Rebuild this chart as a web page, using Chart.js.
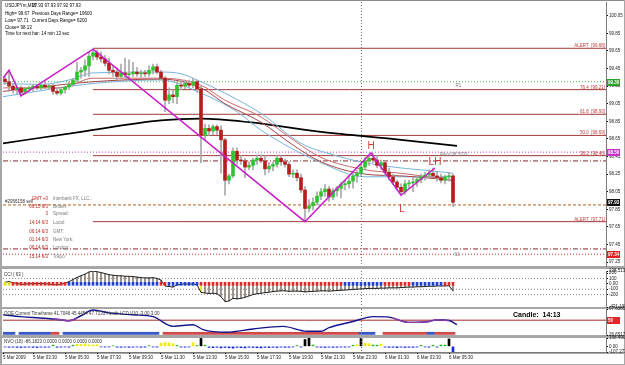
<!DOCTYPE html>
<html><head><meta charset="utf-8">
<script src="https://cdn.jsdelivr.net/npm/chart.js@4.4.1/dist/chart.umd.min.js"></script>
<style>
html,body{margin:0;padding:0;background:#fff;}
body{width:625px;height:365px;position:relative;overflow:hidden;}
canvas{position:absolute;left:0;z-index:1;}
.sep{position:absolute;background:#a6a6a6;z-index:0;}
.t{position:absolute;white-space:pre;font-family:"Liberation Sans",Arial,sans-serif;font-size:9px;line-height:10px;transform:scale(0.5);transform-origin:0 0;z-index:3;color:#000;}
</style></head><body>
<div class="sep" style="left:0;top:0;width:625px;height:1px;background:#8a8a8a"></div>
<div class="sep" style="left:0;top:0;width:2px;height:365px"></div>
<div class="sep" style="left:0;top:266px;width:625px;height:3px"></div>
<div class="sep" style="left:0;top:307px;width:625px;height:2px"></div>
<div class="sep" style="left:0;top:335px;width:625px;height:3px"></div>
<div class="sep" style="left:0;top:352px;width:625px;height:2px"></div>
<div class="sep" style="left:0;top:364px;width:625px;height:1px"></div>
<div class="sep" style="left:624px;top:0;width:1px;height:365px"></div>
<canvas id="cMain" width="625" height="272" style="top:-2px"></canvas>
<canvas id="cCci" width="625" height="44" style="top:267px"></canvas>
<canvas id="cQqe" width="625" height="34" style="top:305px"></canvas>
<canvas id="cNvo" width="625" height="31" style="top:334px"></canvas>
<script>
// ---------------- DATA ----------------
const openP = [99.33,99.30,99.25,99.21,99.23,99.18,99.22,99.23,99.25,99.23,
 99.26,99.24,99.25,99.19,99.17,99.21,99.24,99.27,99.32,99.41,
 99.43,99.48,99.59,99.63,99.58,99.56,99.51,99.43,99.41,99.36,
 99.40,99.38,99.39,99.41,99.39,99.40,99.39,99.43,99.47,99.41,
 99.34,99.09,99.15,99.13,99.26,99.25,99.28,99.26,99.30,99.22,
 98.69,98.77,98.74,98.79,98.75,98.64,98.18,98.23,98.51,98.41,
 98.40,98.33,98.35,98.41,98.43,98.40,98.31,98.34,98.36,98.43,
 98.39,98.36,98.25,98.26,98.21,98.07,97.86,97.89,97.93,98.00,
 98.05,98.08,97.99,98.06,98.09,98.13,98.14,98.17,98.23,98.26,
 98.33,98.40,98.43,98.41,98.35,98.38,98.27,98.22,98.16,98.10,
 98.05,98.14,98.15,98.16,98.19,98.22,98.24,98.26,98.23,98.21,
 98.18,98.22,98.23];
const highP = [99.36,99.43,99.27,99.25,99.25,99.24,99.25,99.27,99.27,99.27,
 99.30,99.27,99.27,99.23,99.22,99.25,99.30,99.34,99.52,99.46,
 99.55,99.64,99.67,99.66,99.64,99.60,99.57,99.48,99.46,99.50,
 99.57,99.55,99.52,99.46,99.43,99.43,99.48,99.50,99.50,99.43,
 99.36,99.23,99.21,99.30,99.32,99.32,99.32,99.34,99.32,99.25,
 98.82,98.81,98.81,98.81,98.80,98.66,98.25,98.55,98.55,98.46,
 98.43,98.39,98.43,98.47,98.47,98.46,98.38,98.39,98.47,98.46,
 98.42,98.39,98.30,98.30,98.25,98.11,97.96,97.98,98.05,98.09,
 98.13,98.11,98.09,98.11,98.16,98.18,98.23,98.27,98.30,98.36,
 98.44,98.47,98.49,98.46,98.41,98.39,98.32,98.25,98.18,98.14,
 98.18,98.18,98.21,98.23,98.25,98.27,98.30,98.32,98.27,98.25,
 98.24,98.27,98.25];
const lowP = [99.27,99.21,99.17,99.16,99.14,99.16,99.18,99.19,99.21,99.21,
 99.22,99.21,99.16,99.15,99.15,99.17,99.21,99.25,99.30,99.34,
 99.36,99.36,99.55,99.55,99.52,99.48,99.39,99.36,99.32,99.34,
 99.34,99.34,99.36,99.36,99.35,99.36,99.36,99.39,99.39,99.32,
 98.96,99.05,99.06,99.05,99.21,99.22,99.23,99.23,99.18,98.38,
 98.64,98.69,98.70,98.70,98.26,98.01,98.14,98.21,98.36,98.36,
 98.21,98.30,98.30,98.36,98.38,98.24,98.27,98.29,98.33,98.35,
 98.33,98.22,98.21,98.17,98.04,97.71,97.82,97.84,97.90,97.96,
 98.00,97.94,97.96,98.00,97.98,98.07,98.09,98.09,98.16,98.23,
 98.30,98.35,98.38,98.32,98.30,98.23,98.18,98.13,98.07,98.01,
 98.02,98.09,98.05,98.11,98.15,98.18,98.21,98.22,98.17,98.15,
 98.14,98.17,97.88];
const closeP = [99.30,99.25,99.21,99.23,99.18,99.22,99.23,99.25,99.23,99.26,
 99.24,99.25,99.19,99.17,99.21,99.24,99.27,99.32,99.41,99.43,
 99.48,99.59,99.63,99.58,99.56,99.51,99.43,99.41,99.36,99.40,
 99.38,99.39,99.41,99.39,99.40,99.39,99.43,99.47,99.41,99.34,
 99.09,99.15,99.13,99.26,99.25,99.28,99.26,99.30,99.22,98.69,
 98.77,98.74,98.79,98.75,98.64,98.18,98.23,98.51,98.41,98.40,
 98.33,98.35,98.41,98.43,98.40,98.31,98.34,98.36,98.43,98.39,
 98.36,98.25,98.26,98.21,98.07,97.86,97.89,97.93,98.00,98.05,
 98.08,97.99,98.06,98.09,98.13,98.14,98.17,98.23,98.26,98.33,
 98.40,98.43,98.41,98.35,98.38,98.27,98.22,98.16,98.10,98.05,
 98.14,98.15,98.16,98.19,98.22,98.24,98.26,98.23,98.21,98.18,
 98.22,98.23,97.93];

// moving averages (bar index, price)
const maUpIdx = [-0.5,9,16,22,39,44,49,55,64,74,82,90,99,106,112];
const maUpVal = [99.28,99.27,99.32,99.40,99.41,99.39,99.30,99.17,98.94,98.60,98.47,98.38,98.32,98.29,98.26];
const maR1Idx = [-0.5,14,22,39,49,55,64,72,79,90,99,112];
const maR1Val = [99.23,99.23,99.34,99.34,99.26,99.09,98.90,98.64,98.44,98.30,98.26,98.18];
const maR2Idx = [-0.5,22,39,49,55,64,72,79,90,99,112];
const maR2Val = [99.19,99.30,99.33,99.23,99.05,98.84,98.58,98.39,98.25,98.23,98.18];
const maLoIdx = [-0.5,22,39,49,58,64,79,90,99,112];
const maLoVal = [99.13,99.28,99.32,99.17,98.96,98.75,98.38,98.22,98.22,98.22];
const blackIdx = [-0.5,19,39,49,61,79,99,113];
const blackVal = [98.60,98.73,98.86,98.88,98.84,98.73,98.64,98.57];

// zigzag
const zzIdx = [-0.5,1,4,22,75,91.5,99,107.5];
const zzVal = [99.34,99.43,99.14,99.67,97.71,98.49,98.01,98.32];

// horizontal levels
const levelPrice = [99.68,99.30,99.21,98.93,98.69,98.50,98.46,98.40,97.90,97.71,97.40,97.34];
const levelStart = [22,-0.5,22,22,22,-0.5,22,-0.5,-0.5,22,-0.5,-0.5];
const levelStyle = ['fib','r1','fib','fib','fib','pivot','fib','dashdot','order','fib','dashdot','s1'];
const fibText = ['ALERT  [99.68]','76.4  [99.21]','61.8  [98.93]','50.0  [98.69]','38.2  [98.46]','ALERT  [97.71]'];
const fibTextPrice = [99.68,99.21,98.93,98.69,98.46,97.71];

const patText = ['H','LH','L'];
const patIdx = [91.5,107.5,99.25];
const patPrice = [98.57,98.39,97.85];
const pivText = ['R1','S1','Pivot 98.5033'];
const pivIdx = [112.6,112.3,108.75];
const pivPrice = [99.25,97.33,98.47];

const priceTicks = [100.05,99.85,99.65,99.45,99.25,99.05,98.85,98.65,98.45,98.25,98.05,97.85,97.65,97.45,97.25];
const tagPrice = [99.30,98.50,97.93,97.34];
const tagText = ['99.30','98.50','97.93','97.34'];
const tagColor = ['#2aa02a','#c832c8','#101010','#e02020'];

// CCI(63)
const cciVal = [30,40,20,10,-10,-5,0,5,0,5,
 0,-5,-15,-20,-10,10,40,80,120,150,
 180,220,238,225,210,190,170,160,150,150,
 140,140,135,125,115,110,110,115,100,70,
 -40,-50,-60,-20,-10,0,-10,0,-20,-160,
 -170,-180,-175,-185,-240,-330,-320,-270,-280,-270,
 -250,-225,-200,-185,-175,-165,-155,-145,-135,-130,
 -130,-140,-135,-135,-140,-150,-145,-140,-135,-130,
 -130,-135,-130,-125,-120,-115,-110,-105,-100,-95,
 -90,-85,-85,-85,-80,-80,-75,-75,-75,-70,
 -65,-60,-60,-55,-55,-50,-45,-45,-40,-40,
 -40,-35,-130];
const cciDotRuns = [['y',2],['r',14],['b',23],['r',2],['b',8],['r',36],['b',10],['r',7],['b',8],['r',3]];
const cciHighlight = [49];
const cciLevels = [100,-100,-200];
const cciTicks = [238.5137,200,100,0,-100,-200,-431.103];
const cciTickText = ['238.5137','200','100','0.00','-100','-200','-431.103'];

// QQE
const qqeIdx = [-0.5,4,10,14,16,19,22,26,32,37,42,47,49.5,55.5,62,69.5,75.5,79,81,87,92,95.5,101,106,108,111,113];
const qqeVal = [58.4,55.7,53.0,50.6,49.1,57.0,66.1,61.5,58.5,55.7,40.3,42.9,35.2,31.0,36.2,40.3,32.5,32.5,38.3,48.0,55.7,55.3,46.5,48.0,50.6,49.6,42.9];
const qqePurpAIdx = [12,14,16,18];
const qqePurpAVal = [52.0,50.6,49.1,53.0];
const qqePurpBIdx = [97,101,106,108,111];
const qqePurpBVal = [53.5,46.5,48.0,50.6,49.6];
const qqeBandRuns = [['b',3],['w',1],['b',8],['r',2],['w',1],['b',24],['w',1],['r',49],['b',4],['w',2],['r',11],['b',2],['r',5]];
const qqeTicks = [67.6565,26.6517];
const qqeTickText = ['67.6565','26.6517'];

// NVO(18)
const nvoVal = [-12,-18,-15,-20,-22,-18,-15,-20,-22,-15,
 -18,-14,22,-18,-15,-12,-16,22,40,35,
 45,30,28,32,-10,-14,-12,12,-16,-18,
 -14,-20,-15,-12,-18,-16,14,-12,-15,60,
 72,66,50,18,-14,-16,-12,70,15,150,
 22,-20,-25,-18,-30,-22,-28,-35,-20,-25,
 -30,-18,-22,-26,-30,-20,-24,-18,-22,-15,
 -20,-18,-12,15,-14,130,158,25,-14,-18,
 -22,-16,-20,-18,-14,-16,-12,20,30,150,
 60,50,24,22,45,-15,-20,-18,-24,-16,
 -22,-18,-20,-14,18,-12,-16,20,-14,25,
 24,140,-107];
const nvoTicks = [158.49,0,-107.272];
const nvoTickText = ['158.490','0.00','-107.272'];

const dateTickIdx = [-0.5,7,15,23,31,39,47,55,63,71,79,87,95,103,111];
const dateTickText = ['5 Mar 2009','5 Mar 03:30','5 Mar 05:30','5 Mar 07:30','5 Mar 09:30','5 Mar 11:30','5 Mar 13:30','5 Mar 15:30','5 Mar 17:30','5 Mar 19:30','5 Mar 21:30','5 Mar 23:30','6 Mar 01:30','6 Mar 03:30','6 Mar 05:30'];
const dayIdx = 89;

const infoRed = ['GMT +0','06:15 6/3','3','14:14 6/3','06:14 6/3','01:14 6/3','06:14 6/3','15:14 6/3'];
const infoGray = ['Interbank FX, LLC.:','Broker:','Spread:','Local:','GMT:','New York:','London:','Tokyo:'];

// ---------------- RENDER ----------------
const FF = '"Liberation Sans", Arial, sans-serif';
Chart.defaults.font.family = FF;
const F = 4.5;
const XMIN = -0.5, XMAX = 150.25;
const BULL = '#2fc42f', BEAR = '#b41e1e', WICK = '#a9a9a9';
const mono = {cubicInterpolationMode:'monotone'};

function runs(r){ const out=[]; r.forEach(([k,n])=>{ for(let j=0;j<n;j++) out.push(k); }); return out; }

function makeDeco(cfg){
  return {id:'deco', afterDatasetsDraw(chart){
    const ctx=chart.ctx, a=chart.chartArea, x=chart.scales.x, y=chart.scales.y;
    ctx.save();
    if (cfg.dayIdx!=null){
      const px=Math.round(x.getPixelForValue(cfg.dayIdx))+0.5;
      ctx.strokeStyle='#6e6e6e'; ctx.lineWidth=1; ctx.setLineDash([1,2]);
      ctx.beginPath(); ctx.moveTo(px,a.top); ctx.lineTo(px,a.bottom); ctx.stroke(); ctx.setLineDash([]);
    }
    (cfg.texts||[]).forEach(t=>{
      ctx.font=t.font; ctx.fillStyle=t.color; ctx.textAlign=t.align||'left'; ctx.textBaseline=t.base||'middle';
      ctx.fillText(t.text, x.getPixelForValue(t.i), y.getPixelForValue(t.v)+(t.dy||0));
    });
    (cfg.tags||[]).forEach(g=>{
      const py=Math.round(y.getPixelForValue(g.v));
      ctx.fillStyle=g.bg; ctx.fillRect(a.right+1, py-3, 13, 7);
      ctx.fillStyle='#fff'; ctx.font='bold 4.5px '+FF; ctx.textAlign='left'; ctx.textBaseline='middle';
      ctx.fillText(g.text, a.right+2, py+0.5);
    });
    ctx.restore();
  }};
}

function yAxis(min,max,vals,labels){
  return {type:'linear', position:'right', min, max, beginAtZero:false,
    afterBuildTicks: s => { s.ticks = vals.map(v=>({value:v})); },
    afterFit: s => { s.width = 19; },
    ticks:{autoSkip:false, padding:1, font:{size:F}, color:'#1a1a1a', callback:(v,i)=>labels[i]},
    grid:{display:true, drawOnChartArea:false, drawTicks:true, tickLength:2, color:'#000', offset:false},
    border:{display:true, color:'#7a7a7a'}};
}
const xHidden = {type:'linear', min:XMIN, max:XMAX, offset:false, display:false, grid:{offset:false}};

function opts(pad, y, x){
  return {responsive:false, animation:false, devicePixelRatio:1, events:[],
    layout:{padding:pad},
    plugins:{legend:{display:false}, tooltip:{enabled:false}},
    scales:{x: x||xHidden, y}};
}
function lineDS(idx, vals, color, width, order, extra){
  return Object.assign({type:'line', data: idx.map((v,k)=>({x:v, y:vals[k]})), borderColor:color, borderWidth:width,
    pointRadius:0, fill:false, order, tension:0}, extra||{});
}

// ---- main pane
const levelStyles = {
  fib:{c:'#a33a3a', d:[]}, r1:{c:'#44b044', d:[1,2]}, pivot:{c:'#c040c0', d:[1,2]},
  dashdot:{c:'#8a2a2a', d:[5,2,1,2]}, order:{c:'#b0601a', d:[3,2]}, s1:{c:'#c83030', d:[1,2]}
};
const mainDS = [];
levelPrice.forEach((p,k)=>{ const st=levelStyles[levelStyle[k]]; mainDS.push(lineDS([levelStart[k],XMAX],[p,p],st.c,1,20,{borderDash:st.d})); });
mainDS.push(lineDS(blackIdx, blackVal, '#000', 1.7, 15, mono));
mainDS.push(lineDS(maUpIdx, maUpVal, '#7ab4dc', 1, 14, mono));
mainDS.push(lineDS(maLoIdx, maLoVal, '#7ab4dc', 1, 14, mono));
mainDS.push(lineDS(maR1Idx, maR1Val, '#c86a6a', 1, 13, mono));
mainDS.push(lineDS(maR2Idx, maR2Val, '#a54848', 1, 13, mono));
mainDS.push({type:'bar', data: lowP.map((l,i)=>({x:i, y:[l, highP[i]]})), backgroundColor:WICK, borderWidth:0, barThickness:1, grouped:false, order:9});
mainDS.push({type:'bar', data: openP.map((o,i)=>({x:i, y:[o, closeP[i]]})), backgroundColor: closeP.map((c,i)=> c>=openP[i]?BULL:BEAR), borderWidth:0, barThickness:3, grouped:false, minBarLength:1, order:8});
mainDS.push(lineDS(zzIdx, zzVal, '#c81ec8', 1.5, 2));

const mainTexts = [];
fibText.forEach((t,k)=>mainTexts.push({text:t, i:150, v:fibTextPrice[k], dy:-1, font:F+'px '+FF, color:'#c03a3a', align:'right', base:'alphabetic'}));
patText.forEach((t,k)=>mainTexts.push({text:t, i:patIdx[k], v:patPrice[k], font:'10px '+FF, color:'#d23c3c', align:'center', base:'middle'}));
pivText.forEach((t,k)=>mainTexts.push({text:t, i:pivIdx[k], v:pivPrice[k], font:F+'px '+FF, color:'#7a7a7a', align:'left', base:'middle'}));
const mainTags = tagPrice.map((v,k)=>({v, text:tagText[k], bg:tagColor[k]}));

new Chart(document.getElementById('cMain'), {type:'bar', data:{datasets:mainDS},
  options: opts({left:3,right:0,top:4,bottom:4}, yAxis(97.206,100.206,priceTicks,priceTicks.map(v=>v.toFixed(2)))),
  plugins:[makeDeco({dayIdx, texts:mainTexts, tags:mainTags})]});

// ---- CCI pane
const dotKeys = runs(cciDotRuns);
const dotCol = {y:'#e8dc1e', r:'#e02828', b:'#2040d0'};
const cciDS = [];
cciLevels.forEach(v=>cciDS.push(lineDS([XMIN,XMAX],[v,v],'#8c8c8c',1,20,{borderDash:[1,2]})));
cciDS.push({type:'bar', data: cciVal.map((v,i)=>({x:i, y:[0,v]})), backgroundColor: cciVal.map((v,i)=> cciHighlight.includes(i)?'#e8e020':'#8a7f78'), borderWidth:0, barThickness:1, grouped:false, order:10});
cciDS.push(lineDS(cciVal.map((v,i)=>i), cciVal, '#202020', 1, 5));
cciDS.push({type:'bar', data: dotKeys.map((k,i)=>({x:i, y:[-28,28]})), backgroundColor: dotKeys.map(k=>dotCol[k]), borderWidth:0, barThickness:2, grouped:false, order:1});
new Chart(document.getElementById('cCci'), {type:'bar', data:{datasets:cciDS},
  options: opts({left:3,right:0,top:4,bottom:4}, yAxis(-431.103,238.5137,cciTicks,cciTickText)),
  plugins:[makeDeco({dayIdx})]});

// ---- QQE pane
const bandKeys = runs(qqeBandRuns);
const bandCol = {b:'#3a58c8', r:'#cf4a4a'};
const bandPts = []; const bandColors = [];
bandKeys.forEach((k,i)=>{ if(k!=='w'){ bandPts.push({x:i, y:[27.6,31.0]}); bandColors.push(bandCol[k]); } });
const qqeDS = [
  {type:'bar', data:bandPts, backgroundColor:bandColors, borderWidth:0, barThickness:4, grouped:false, order:10},
  lineDS([XMIN,XMAX],[50,50],'#a52a2a',1,8),
  lineDS(qqeIdx, qqeVal, '#14148c', 1.4, 3, mono),
  lineDS(qqePurpAIdx, qqePurpAVal, '#8c3caa', 1.4, 2, mono),
  lineDS(qqePurpBIdx, qqePurpBVal, '#8c3caa', 1.4, 2, mono)
];
new Chart(document.getElementById('cQqe'), {type:'bar', data:{datasets:qqeDS},
  options: opts({left:3,right:0,top:4,bottom:4}, yAxis(26.6517,67.6565,qqeTicks,qqeTickText)),
  plugins:[makeDeco({dayIdx, tags:[{v:50, text:'50', bg:'#e02828'}]})]});

// ---- NVO pane + date axis
const nvoColor = v => v<0 ? '#1a2ad2' : v<=25 ? '#22b422' : v<100 ? '#f0ea10' : '#000';
const nvoDS = [{type:'bar', data: nvoVal.map((v,i)=>({x:i, y:[0,v]})), backgroundColor: nvoVal.map(nvoColor), borderWidth:0, barThickness:2, grouped:false, order:1}];
const xDate = {type:'linear', min:XMIN, max:XMAX, offset:false, display:true, position:'bottom',
  afterBuildTicks: s => { s.ticks = dateTickIdx.map(v=>({value:v})); },
  afterFit: s => { s.height = 13; },
  ticks:{autoSkip:false, maxRotation:0, minRotation:0, align:'start', padding:1, font:{size:F}, color:'#1a1a1a', callback:(v,i)=>dateTickText[i]},
  grid:{display:true, drawOnChartArea:false, drawTicks:true, tickLength:2, color:'#000', offset:false},
  border:{display:true, color:'#7a7a7a'}};
new Chart(document.getElementById('cNvo'), {type:'bar', data:{datasets:nvoDS},
  options: opts({left:3,right:0,top:4,bottom:0}, yAxis(-107.272,158.49,nvoTicks,nvoTickText), xDate),
  plugins:[makeDeco({dayIdx})]});

// ---------------- TEXT OVERLAYS ----------------
function addT(x, y, s, o){
  o = o||{};
  const d = document.createElement('div'); d.className='t'; d.textContent = s;
  if (o.right!=null){ d.style.left=(o.right-40)+'px'; d.style.width='80px'; d.style.textAlign='right'; }
  else d.style.left = x+'px';
  d.style.top = y+'px';
  if (o.color) d.style.color = o.color;
  if (o.size){ d.style.fontSize = (o.size*2)+'px'; d.style.lineHeight = (o.size*2+2)+'px'; }
  if (o.bold) d.style.fontWeight = 'bold';
  document.body.appendChild(d);
}
addT(5,3,'USDJPYm,M15'); addT(32,3,'97.93 97.93 97.92 97.93');
addT(5,10.5,'High= 99.67'); addT(32,10.5,'Previous Days Range= 19600');
addT(5,18,'Low= 97.71'); addT(32,18,'Current Days Range= 6200');
addT(5,25,'Close= 98.13');
addT(5,31,'Time for next bar: 14 min 13 sec');

const infoTop = [196,203.5,211,220,228.5,237,245,253.5];
infoRed.forEach((s,k)=>addT(0, infoTop[k], s, {right:48, color:'#c42020'}));
infoGray.forEach((s,k)=>addT(53, infoTop[k], s, {color:'#7a7a7a'}));
addT(5,198.5,'#2956158 sell',{color:'#303030'});

addT(4,272,'CCI ( 63 )',{color:'#303030'});
addT(4,310.5,'QQE Current Timeframe 41.7046 45.4454 47.7131 Heath LCD V10 -3.00 3.00',{color:'#303030'});
addT(4,338.5,'NVO (18) -86.1823 0.0000 0.0000 0.0000 0.0000',{color:'#303030'});
addT(513,309.5,'Candle:  14:13',{size:7, bold:true});
</script>
</body></html>
